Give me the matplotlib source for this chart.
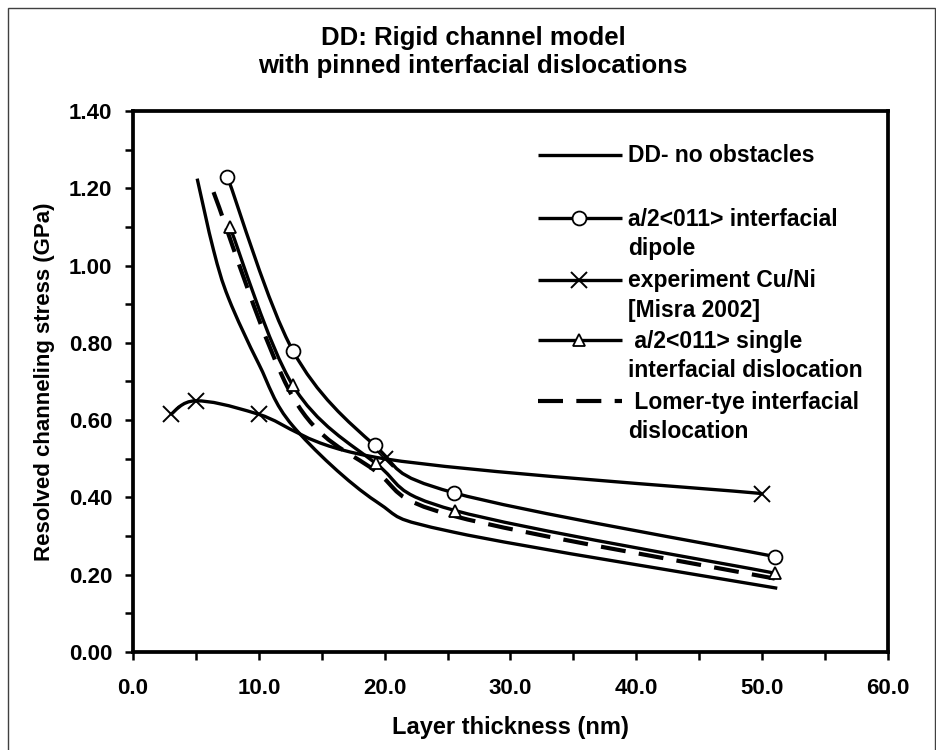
import numpy as np
import matplotlib
matplotlib.use("Agg")
import matplotlib.pyplot as plt
from matplotlib.path import Path
from matplotlib.patches import PathPatch, Rectangle
from matplotlib.lines import Line2D
from matplotlib.ticker import MultipleLocator, FormatStrFormatter

plt.rcParams["font.family"] = ["Liberation Sans", "DejaVu Sans"]
plt.rcParams["font.weight"] = "bold"

# ------------------------------------------------------------
# data: layer thickness (nm) vs resolved channeling stress (GPa)
# ------------------------------------------------------------
dd_x = [5.1, 6.4, 7.6, 10.0, 12.7, 19.3, 25.5, 51.2]
dd_y = [1.225, 1.04, 0.915, 0.745, 0.585, 0.39, 0.31, 0.165]

dipole_x = [7.5, 12.7, 19.2, 25.5, 51.0]
dipole_y = [1.23, 0.78, 0.535, 0.412, 0.247]

exp_x = [3.0, 5.0, 10.0, 20.0, 50.0]
exp_y = [0.615, 0.65, 0.615, 0.50, 0.41]

single_x = [7.7, 12.7, 19.3, 25.6, 51.0]
single_y = [1.10, 0.69, 0.488, 0.366, 0.204]

lomer_x = [6.4, 12.7, 19.2, 25.5, 51.0]
lomer_y = [1.19, 0.66, 0.47, 0.352, 0.19]

W, H = 937, 750
fig = plt.figure(figsize=(W / 100, H / 100), dpi=100)
ax = fig.add_axes([133 / W, 1 - 652 / H, 755 / W, 541 / H])


def smooth_path(xs, ys):
    # Bezier segments through every point (spreadsheet-style smoothed line)
    pts = np.column_stack([xs, ys]).astype(float)
    verts = [pts[0]]
    codes = [Path.MOVETO]
    n = len(pts)
    for i in range(n - 1):
        p0 = pts[max(i - 1, 0)]
        p1 = pts[i]
        p2 = pts[i + 1]
        p3 = pts[min(i + 2, n - 1)]
        c1 = p1 + (p2 - p0) / 6.0
        c2 = p2 - (p3 - p1) / 6.0
        verts += [c1, c2, p2]
        codes += [Path.CURVE4] * 3
    return Path(verts, codes)


def draw_curve(xs, ys, **kw):
    patch = PathPatch(smooth_path(xs, ys), facecolor="none", edgecolor="black",
                      capstyle="butt", joinstyle="round", **kw)
    ax.add_patch(patch)


LW = 2.4
DASH = (0, (6, 3.2))
draw_curve(dd_x, dd_y, lw=LW)
draw_curve(dipole_x, dipole_y, lw=LW)
draw_curve(exp_x, exp_y, lw=LW)
draw_curve(single_x, single_y, lw=LW)
draw_curve(lomer_x, lomer_y, lw=3.0, linestyle=DASH)

ax.plot(dipole_x, dipole_y, ls="none", marker="o", ms=10, mfc="white",
        mec="black", mew=1.3, zorder=5)
ax.plot(exp_x, exp_y, ls="none", marker="x", ms=12, mec="black", mew=1.4, zorder=5)
ax.plot(single_x, single_y, ls="none", marker="^", ms=8.5, mfc="white",
        mec="black", mew=1.3, zorder=5)

ax.set_xlim(0, 60)
ax.set_ylim(0, 1.40)
ax.xaxis.set_major_locator(MultipleLocator(10))
ax.xaxis.set_minor_locator(MultipleLocator(5))
ax.yaxis.set_major_locator(MultipleLocator(0.2))
ax.yaxis.set_minor_locator(MultipleLocator(0.1))
ax.xaxis.set_major_formatter(FormatStrFormatter("%.1f"))
ax.yaxis.set_major_formatter(FormatStrFormatter("%.2f"))
ax.tick_params(which="both", direction="out", length=6, width=1.8)
ax.tick_params(axis="x", which="major", pad=13, labelsize=16)
ax.tick_params(axis="y", which="major", pad=9, labelsize=16)
for sp in ax.spines.values():
    sp.set_linewidth(2.7)

ax.set_xlabel("Layer thickness (nm)", fontsize=17, fontweight="bold", labelpad=12)
ax.set_ylabel("Resolved channeling stress (GPa)", fontsize=16, fontweight="bold",
              labelpad=10)

fig.text(473 / W, 1 - 38 / H, "DD: Rigid channel model", ha="center",
         va="center", fontsize=18.5, fontweight="bold")
fig.text(473 / W, 1 - 66 / H, "with pinned interfacial dislocations", ha="center",
         va="center", fontsize=18.5, fontweight="bold")


# hand-placed legend (handle aligned with first text line)
def fx(px):
    return px / W


def fy(py):
    return 1 - py / H


entries = [
    (155, dict(ls="-"), None, ["DD- no obstacles"]),
    (218, dict(ls="-"), dict(marker="o", ms=10, mfc="white", mew=1.3),
     ["a/2<011> interfacial", "dipole"]),
    (280, dict(ls="-"), dict(marker="x", ms=12, mfc="none", mew=1.4),
     ["experiment Cu/Ni", "[Misra 2002]"]),
    (340, dict(ls="-"), dict(marker="^", ms=8.5, mfc="white", mew=1.3),
     [" a/2<011> single", "interfacial dislocation"]),
    (401, dict(ls=DASH, lw=3.0), None, [" Lomer-tye interfacial", "dislocation"]),
]
for yc, line_kw, mark_kw, lines in entries:
    kw = dict(color="black", lw=LW, solid_capstyle="butt", dash_capstyle="butt")
    kw.update(line_kw)
    fig.add_artist(Line2D([fx(538), fx(622)], [fy(yc), fy(yc)],
                          transform=fig.transFigure, **kw))
    if mark_kw:
        fig.add_artist(Line2D([fx(579)], [fy(yc)], transform=fig.transFigure,
                              ls="none", mec="black", **mark_kw))
    for k, txt in enumerate(lines):
        fig.text(fx(628), fy(yc + 7.5 + 29.5 * k), txt, ha="left", va="baseline",
                 fontsize=16.5, fontweight="bold")

# thin outer frame
fig.add_artist(Rectangle((fx(8), fy(760)), fx(927), 752 / H, transform=fig.transFigure,
                         fill=False, edgecolor="#404040", lw=1.0))

fig.savefig("out.png", dpi=100)
